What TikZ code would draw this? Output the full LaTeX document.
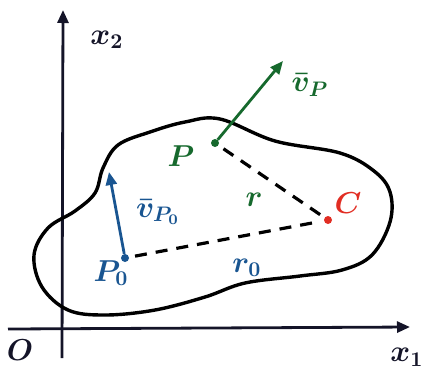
\documentclass[tikz,border=0pt]{standalone}
\usepackage{bm}
\usetikzlibrary{arrows.meta}
\definecolor{pgreen}{RGB}{22,105,45}
\definecolor{pblue}{RGB}{25,85,145}
\definecolor{pred}{RGB}{225,45,35}
\definecolor{ink}{RGB}{20,20,40}
\newcommand{\mylbl}[1]{\scalebox{2.1}{\boldmath$#1$}}
\begin{document}
\begin{tikzpicture}[x=1pt,y=-1pt,
  axis/.style={line width=2.8pt, draw=ink, -{Triangle[length=13pt,width=11pt]}},
  blob/.style={line width=3.4pt, draw=black, line join=round},
  radius line/.style={line width=3.2pt, draw=black, dash pattern=on 12pt off 9pt, shorten <=6pt, shorten >=4pt},
  vec/.style={line width=2.8pt, -{Triangle[length=13pt,width=11pt]}},
  pt/.style={circle, inner sep=0pt, minimum size=8pt},
  lab/.style={font=\Large, inner sep=1pt}
]
\useasboundingbox (0,0) rectangle (438,376);
% axes
\coordinate (ybot) at (62,358);
\coordinate (ytop) at (63,10);
\coordinate (xleft) at (8,329);
\coordinate (xright) at (410,327);
\draw[axis] (ybot) -- (ytop);
\draw[axis] (xleft) -- (xright);
\node[lab, text=ink] (o) at (20,350) {\mylbl{O}};
\node[lab, text=ink] (x2) at (107,40) {\mylbl{x_2}};
\node[lab, text=ink] (x1) at (407,357) {\mylbl{x_1}};
% body
\draw[blob] plot[smooth cycle, tension=0.6] coordinates {
  (103,168) (95,193) (75,211) (48,228) (34,255) (42,287) (68,310) (105,315)
  (155,310) (205,297) (245,283) (300,276) (342,270) (372,255) (390,222)
  (390,192) (374,171) (340,153) (275,141) (220,119) (185,122) (150,132) (118,145)};
% points
\node[pt, fill=pgreen] (P) at (215,143) {};
\node[pt, fill=pred] (C) at (328,220) {};
\node[pt, fill=pblue] (P0) at (125,258) {};
\coordinate (vPtip) at (283,61);
\coordinate (vP0tip) at (109,172);
% dashed radii
\draw[radius line] (P) -- (C);
\draw[radius line] (P0) -- (C);
% velocities
\draw[vec, pgreen] (P) -- (vPtip);
\draw[vec, pblue] (P0) -- (vP0tip);
% labels
\node[lab, text=pgreen] (vPl) at (310,85) {\mylbl{\bar{v}_P}};
\node[lab, text=pgreen] (Pl) at (181,156) {\mylbl{P}};
\node[lab, text=pgreen] (rl) at (254,200) {\mylbl{r}};
\node[lab, text=pred] (Cl) at (348,203) {\mylbl{C}};
\node[lab, text=pblue] (vP0l) at (158,212) {\mylbl{\bar{v}_{P_0}}};
\node[lab, text=pblue] (P0l) at (111,273) {\mylbl{P_0}};
\node[lab, text=pblue] (r0l) at (247,268) {\mylbl{r_0}};
\end{tikzpicture}
\end{document}
